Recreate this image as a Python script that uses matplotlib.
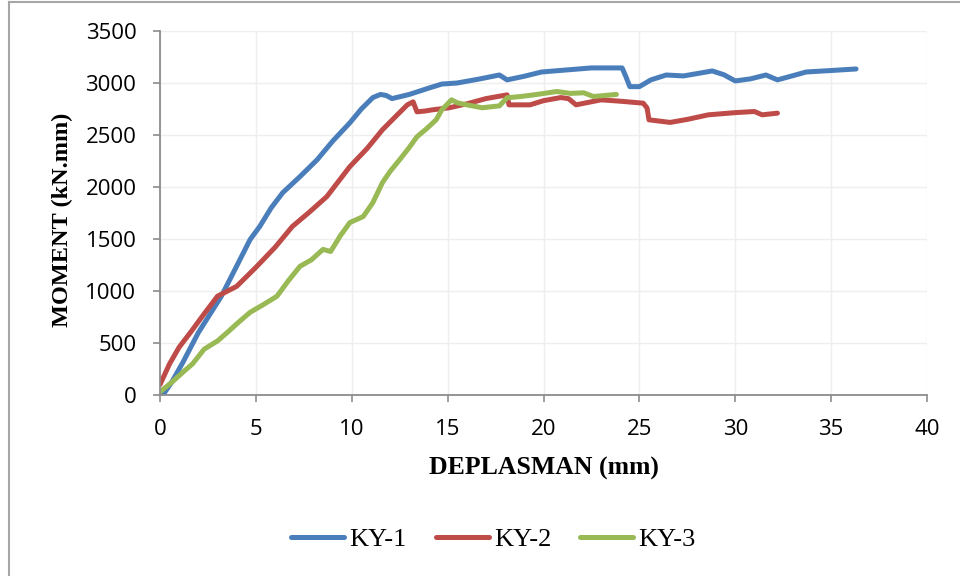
import matplotlib
matplotlib.use("Agg")
import matplotlib.pyplot as plt
from matplotlib.lines import Line2D

# KY-1
ky1_x = [0.15, 0.6, 1.2, 2.0, 3.2, 4.0, 4.7, 5.2, 5.8, 6.4, 7.3, 8.2, 9.0, 9.9,
         10.5, 11.1, 11.5, 11.8, 12.1, 13.0, 14.0, 14.7, 15.5, 16.7, 17.7, 18.1,
         19.0, 19.9, 21.5, 22.5, 24.1, 24.3, 24.5, 25.0, 25.6, 26.4, 27.3, 28.0,
         28.8, 29.4, 30.0, 30.8, 31.6, 32.2, 33.0, 33.7, 35.0, 36.3]
ky1_y = [0, 120, 316, 600, 950, 1240, 1495, 1620, 1800, 1945, 2100, 2263, 2440,
         2617, 2750, 2860, 2890, 2880, 2850, 2890, 2950, 2990, 3000, 3040, 3077,
         3030, 3065, 3106, 3130, 3145, 3145, 3060, 2965, 2965, 3030, 3077, 3068,
         3090, 3116, 3080, 3020, 3040, 3077, 3030, 3070, 3106, 3120, 3135]

# KY-2
ky2_x = [0.0, 0.5, 1.0, 1.6, 2.3, 3.0, 4.0, 5.0, 6.0, 6.9, 7.8, 8.7, 9.9, 10.8,
         11.6, 12.3, 12.9, 13.2, 13.4, 13.8, 14.2, 15.1, 16.0, 17.0, 18.1, 18.2,
         19.3, 20.0, 20.9, 21.3, 21.7, 23.0, 24.0, 25.2, 25.4, 25.5, 26.6, 27.5,
         28.6, 30.0, 31.0, 31.4, 32.2]
ky2_y = [100, 300, 460, 604, 780, 950, 1045, 1227, 1420, 1620, 1760, 1908, 2196,
         2370, 2550, 2680, 2790, 2819, 2723, 2730, 2742, 2762, 2800, 2850, 2886,
         2790, 2790, 2830, 2860, 2850, 2790, 2838, 2825, 2806, 2760, 2646, 2621,
         2650, 2694, 2715, 2726, 2694, 2710]

# KY-3
ky3_x = [0.0, 0.6, 1.2, 1.7, 2.3, 3.0, 3.5, 4.1, 4.7, 5.4, 6.1, 6.7, 7.3, 7.9,
         8.5, 8.9, 9.4, 9.9, 10.6, 11.1, 11.6, 12.0, 12.5, 13.0, 13.4, 13.9, 14.4,
         14.7, 15.2, 15.5, 16.0, 16.8, 17.7, 18.1, 18.8, 19.5, 20.7, 21.4, 22.1,
         22.6, 23.2, 23.8]
ky3_y = [30, 120, 220, 300, 440, 520, 600, 700, 795, 870, 950, 1100, 1237, 1300,
         1400, 1380, 1530, 1658, 1716, 1850, 2042, 2150, 2263, 2380, 2483, 2560,
         2646, 2742, 2838, 2810, 2790, 2762, 2780, 2858, 2870, 2886, 2918, 2900,
         2906, 2870, 2880, 2890]

labels = ["KY-1", "KY-2", "KY-3"]
colors = ["#4A7EBB", "#BE4B48", "#98B954"]

serif = ["Liberation Serif", "DejaVu Serif"]
tick_font = ["Open Sans", "DejaVu Sans"]

fig = plt.figure(figsize=(9.6, 5.76), dpi=100)
ax = fig.add_axes([160 / 960, 1 - 395 / 576, 767 / 960, 364 / 576])

for xs, ys, c, lab in zip([ky1_x, ky2_x, ky3_x], [ky1_y, ky2_y, ky3_y], colors, labels):
    ax.plot(xs, ys, color=c, lw=3.6, label=lab, solid_capstyle="round", solid_joinstyle="round")

ax.set_xlim(0, 40)
ax.set_ylim(0, 3500)
ax.set_xticks(range(0, 41, 5))
ax.set_yticks(range(0, 3501, 500))
ax.grid(True, color="#eeeeee", lw=1.0)
ax.set_axisbelow(True)

for s in ["top", "right"]:
    ax.spines[s].set_visible(False)
for s in ["left", "bottom"]:
    ax.spines[s].set_color("#8c8c8c")
    ax.spines[s].set_linewidth(1.3)

ax.tick_params(axis="both", direction="out", length=5, width=1.2, color="#8c8c8c",
               labelsize=16)
ax.tick_params(axis="y", pad=12)
ax.tick_params(axis="x", pad=12)
for t in ax.get_xticklabels() + ax.get_yticklabels():
    t.set_family(tick_font)

ax.set_xlabel("DEPLASMAN (mm)", family=serif, fontweight="bold", fontsize=18.5)
ax.set_ylabel("MOMENT (kN.mm)", family=serif, fontweight="bold", fontsize=17.5)
ax.xaxis.set_label_coords(0.5, -0.17)
ax.yaxis.set_label_coords(-0.113, 0.48)

fig.legend(loc="center", bbox_to_anchor=(0.514, 0.064), ncol=3, frameon=False,
           prop={"family": serif, "size": 19}, handlelength=2.0, handletextpad=0.2,
           columnspacing=1.1)

# outer border (left and top only visible)
fig.add_artist(Line2D([9 / 960, 9 / 960], [0, 1 - 2 / 576], color="#a6a6a6", lw=1.5))
fig.add_artist(Line2D([9 / 960, 1], [1 - 2 / 576, 1 - 2 / 576], color="#a6a6a6", lw=1.5))

fig.savefig("out.png", dpi=100)
